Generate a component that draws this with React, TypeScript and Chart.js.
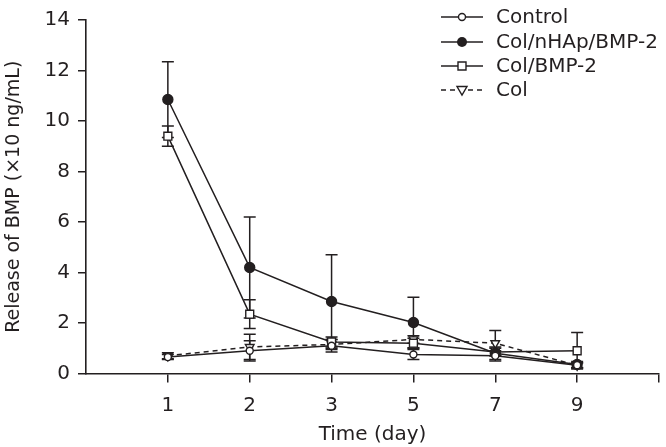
import { useEffect, useRef } from 'react';
import { Chart, registerables } from 'chart.js';

Chart.register(...registerables);

const days = ['1', '2', '3', '5', '7', '9'];
const seriesNames = ['Control', 'Col/nHAp/BMP-2', 'Col/BMP-2', 'Col'];
const controlMean = [0.65, 0.9, 1.1, 0.75, 0.7, 0.33];
const controlErr = [0.1, 0.4, 0.25, 0.2, 0.2, 0.1];
const nhapMean = [10.85, 4.2, 2.85, 2.02, 0.8, 0.36];
const nhapErr = [1.5, 2.0, 1.85, 1.0, 0.25, 0.12];
const bmpMean = [9.4, 2.35, 1.25, 1.2, 0.85, 0.9];
const bmpErr = [0.4, 0.57, 0.2, 0.2, 0.15, 0.72];
const colMean = [0.7, 1.05, 1.15, 1.35, 1.2, 0.32];
const colErr = [0.12, 0.5, 0.2, 0.15, 0.5, 0.1];
const yTicks = [0, 2, 4, 6, 8, 10, 12, 14];

const INK = '#231f20';
const FONT = 'DejaVu Sans';
const FS = 20;

const means = [controlMean, nhapMean, bmpMean, colMean];
const errs = [controlErr, nhapErr, bmpErr, colErr];

function drawMarker(ctx: CanvasRenderingContext2D, kind: string, x: number, y: number) {
  ctx.save();
  ctx.strokeStyle = INK;
  ctx.lineWidth = 1.4;
  ctx.setLineDash([]);
  ctx.beginPath();
  if (kind === 'open') {
    ctx.arc(x, y, 3.5, 0, Math.PI * 2);
    ctx.fillStyle = '#fff';
    ctx.fill();
    ctx.stroke();
  } else if (kind === 'filled') {
    ctx.arc(x, y, 5, 0, Math.PI * 2);
    ctx.fillStyle = INK;
    ctx.fill();
  } else if (kind === 'square') {
    ctx.rect(x - 4, y - 4, 8, 8);
    ctx.fillStyle = '#fff';
    ctx.fill();
    ctx.stroke();
  } else {
    ctx.moveTo(x - 5, y - 3.5);
    ctx.lineTo(x + 5, y - 3.5);
    ctx.lineTo(x, y + 5);
    ctx.closePath();
    ctx.fillStyle = '#fff';
    ctx.fill();
    ctx.stroke();
  }
  ctx.restore();
}

const markerKinds = ['open', 'filled', 'square', 'tri'];

const errorBarPlugin = {
  id: 'errorBars',
  beforeDatasetsDraw(chart: any) {
    const ctx = chart.ctx;
    const ys = chart.scales.y;
    ctx.save();
    ctx.strokeStyle = INK;
    ctx.lineWidth = 1.5;
    chart.data.datasets.forEach((ds: any, di: number) => {
      const meta = chart.getDatasetMeta(di);
      meta.data.forEach((pt: any, i: number) => {
        const m = means[di][i];
        const e = errs[di][i];
        const yt = ys.getPixelForValue(m + e);
        const yb = ys.getPixelForValue(Math.max(0, m - e));
        const x = pt.x;
        ctx.beginPath();
        ctx.moveTo(x, yt);
        ctx.lineTo(x, yb);
        ctx.moveTo(x - 6, yt);
        ctx.lineTo(x + 6, yt);
        ctx.moveTo(x - 6, yb);
        ctx.lineTo(x + 6, yb);
        ctx.stroke();
      });
    });
    ctx.restore();
  },
};

const legendPlugin = {
  id: 'customLegend',
  afterDraw(chart: any) {
    const ctx = chart.ctx;
    const rowY = [17, 42, 66, 90];
    ctx.save();
    seriesNames.forEach((name, i) => {
      const y = rowY[i];
      ctx.strokeStyle = INK;
      ctx.lineWidth = 1.5;
      ctx.setLineDash(i === 3 ? [5, 4] : []);
      ctx.beginPath();
      ctx.moveTo(441, y);
      ctx.lineTo(483, y);
      ctx.stroke();
      ctx.setLineDash([]);
      drawMarker(ctx, markerKinds[i], 462, y);
      ctx.fillStyle = INK;
      ctx.font = `${FS}px "${FONT}"`;
      ctx.textBaseline = 'middle';
      ctx.textAlign = 'left';
      ctx.fillText(name, 496, y + 1);
    });
    ctx.restore();
  },
};

export default function App() {
  const ref = useRef<HTMLCanvasElement | null>(null);

  useEffect(() => {
    if (!ref.current) return;
    const mk = (label: string, arr: number[], style: any) => ({
      label,
      data: arr.map((v, i) => ({ x: i + 1, y: v })),
      borderColor: INK,
      borderWidth: 1.5,
      pointBorderColor: INK,
      pointBorderWidth: 1.4,
      tension: 0,
      ...style,
    });
    const chart = new Chart(ref.current, {
      type: 'line',
      data: {
        datasets: [
          mk(seriesNames[0], controlMean, { pointStyle: 'circle', pointRadius: 3.5, pointBackgroundColor: '#fff' }),
          mk(seriesNames[1], nhapMean, { pointStyle: 'circle', pointRadius: 5, pointBackgroundColor: INK }),
          mk(seriesNames[2], bmpMean, { pointStyle: 'rect', pointRadius: 5.6, pointBackgroundColor: '#fff' }),
          mk(seriesNames[3], colMean, { pointStyle: 'triangle', pointRotation: 180, pointRadius: 5, pointBackgroundColor: '#fff', borderDash: [5, 4] }),
        ],
      },
      options: {
        animation: false,
        responsive: false,
        devicePixelRatio: 1,
        layout: { padding: { top: 12, right: 3, left: 0, bottom: 0 } },
        plugins: { legend: { display: false }, tooltip: { enabled: false } },
        scales: {
          x: {
            type: 'linear',
            min: 0,
            max: 7,
            afterBuildTicks: (s: any) => {
              s.ticks = [1, 2, 3, 4, 5, 6, 7].map((v) => ({ value: v }));
            },
            afterFit: (s: any) => {
              s.height = 73.5;
              s.paddingRight = 0;
              s.paddingLeft = 0;
            },
            ticks: {
              autoSkip: false,
              maxRotation: 0,
              padding: 11,
              color: INK,
              font: { family: FONT, size: FS },
              callback: (v: any) => days[Number(v) - 1] ?? '',
            },
            grid: { drawOnChartArea: false, drawTicks: true, tickLength: 9, color: INK, lineWidth: 1.5 },
            border: { display: true, color: INK, width: 1.6 },
            title: {
              display: true,
              text: 'Time (day)',
              color: INK,
              font: { family: FONT, size: FS },
              padding: { top: 0, bottom: 0 },
            },
          },
          y: {
            type: 'linear',
            min: 0,
            max: 14,
            afterBuildTicks: (s: any) => {
              s.ticks = yTicks.map((v) => ({ value: v }));
            },
            afterFit: (s: any) => {
              s.width = 86;
            },
            ticks: {
              padding: 8,
              color: INK,
              font: { family: FONT, size: FS },
            },
            grid: { drawOnChartArea: false, drawTicks: true, tickLength: 8, color: INK, lineWidth: 1.5 },
            border: { display: true, color: INK, width: 1.6 },
            title: {
              display: true,
              text: 'Release of BMP (×10 ng/mL)',
              color: INK,
              font: { family: FONT, size: 19 },
              padding: { top: 3, bottom: 0 },
            },
          },
        },
      },
      plugins: [errorBarPlugin, legendPlugin],
    } as any);
    return () => chart.destroy();
  }, []);

  return (
    <div style={{ position: 'absolute', left: 0, top: 0, width: 666, height: 447, background: '#fff' }}>
      <canvas ref={ref} width={666} height={447} />
    </div>
  );
}
